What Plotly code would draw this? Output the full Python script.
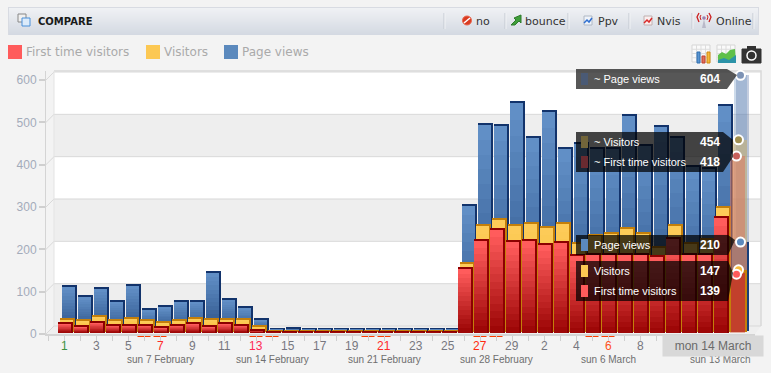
import plotly.graph_objects as go

W, H = 771, 373
days = [str(d) for d in range(1, 30)] + [str(d) for d in range(1, 15)]
first_time = [21,14,24,17,17,17,12,17,21,14,21,17,5, 1,1,1,1,1,1,1,1,1,1,1,1,
              151,217,243,215,217,208,213,182,184,184,184,184,180,222,184,184,272,139]
visitors = [28,26,35,26,31,26,21,26,31,28,28,28,12, 1,1,1,1,1,1,1,1,1,1,1,1,
            161,250,265,250,255,246,255,208,227,232,243,232,198,250,208,217,293,147]
page_views = [104,80,99,68,106,49,56,68,68,137,73,54,26, 3,4,3,3,3,3,3,3,3,3,3,3,
              295,486,484,538,456,517,430,442,430,430,508,437,482,456,387,382,531,210]
proj_first, proj_visitors, proj_page = 418, 454, 604
y_ticks = [0, 100, 200, 300, 400, 500, 600]
week_labels = [(6, "sun 7 February"), (13, "sun 14 February"), (20, "sun 21 February"),
               (27, "sun 28 February"), (34, "sun 6 March"), (41, "sun 13 March")]
weekend = [5, 6, 12, 13, 19, 20, 26, 27, 33, 34, 40, 41]
label_colors = {0: "#3d9140", 6: "#ff2a2a", 12: "#ff2a55", 20: "#ff2a2a", 26: "#ff2a10", 34: "#ff5020"}
last_labelled_day = 36   # the date tag hides the later labels

K = 254 / 600          # px per value
UX = 1 / 16            # x units per px
UY = 1 / K             # value units per px
X0PX = 64              # pixel of day index 0
def X(p): return p / W
def Y(p): return 1 - p / H
def mix(a, b, t):
    return "#%02x%02x%02x" % tuple(round(a[i] + (b[i] - a[i]) * t) for i in range(3))

shapes, ann = [], []
def rect(x0, y0, x1, y1, fill, line=None, layer="below", lw=1):
    shapes.append(dict(type="rect", xref="paper", yref="paper", x0=X(x0), x1=X(x1), y0=Y(y0), y1=Y(y1),
                       fillcolor=fill, line=dict(color=line or "rgba(0,0,0,0)", width=lw if line else 0), layer=layer))
def poly(pts, fill=None, line=None, layer="below", lw=1):
    path = "M" + " L".join(f"{X(a):.5f},{Y(b):.5f}" for a, b in pts) + (" Z" if fill else "")
    shapes.append(dict(type="path", xref="paper", yref="paper", path=path, fillcolor=fill or "rgba(0,0,0,0)",
                       line=dict(color=line or "rgba(0,0,0,0)", width=lw if line else 0), layer=layer))
def circle(cx, cy, r, fill, line=None, lw=1, layer="above"):
    shapes.append(dict(type="circle", xref="paper", yref="paper", x0=X(cx-r), x1=X(cx+r), y0=Y(cy-r), y1=Y(cy+r),
                       fillcolor=fill, line=dict(color=line or "rgba(0,0,0,0)", width=lw if line else 0), layer=layer))
def txt(x, y, s, size=11, color="#333", anchor="left", family="Liberation Sans", **kw):
    ann.append(dict(xref="paper", yref="paper", x=X(x), y=Y(y), text=s, showarrow=False, xanchor=anchor, yanchor="middle",
                    font=dict(size=size, color=color, family=family), borderpad=0, **kw))

# ---- header
rect(8, 7, 759, 35, "#d8dbe2")
for k in range(27):
    rect(9, 8 + k, 758, 9 + k, mix((239, 241, 244), (212, 217, 226), k / 26))
txt(37, 21, "<b>COMPARE</b>", 10, "#1a1a1a", family="DejaVu Sans")
rect(18, 14, 26, 22, "#f0f0f0", "#888888", "above")
rect(22, 18, 30, 26, "#dcebfa", "#4a90d9", "above")
for sx in (444, 505, 568, 629, 692, 753):
    poly([(sx, 13), (sx, 29)], None, "#c3c8d0")
    poly([(sx + 1, 13), (sx + 1, 29)], None, "#f0f2f5")
for x, s in ((475, "no"), (524, "bounce"), (597, "Ppv"), (656, "Nvis"), (715, "Online")):
    txt(x, 21, s, 11, "#333333", family="DejaVu Sans")
# header icons
circle(467, 20.5, 4.5, "#d93a20", "#e8664d")
poly([(464, 23), (470, 18)], None, "#ffffff", "above", 1.6)
poly([(511, 25), (516, 20), (514, 18), (521, 15), (521, 23), (519, 21), (515, 25)], "#3f9e3a", "#2d7a2a", "above")
for cx, col in ((588, "#2f6fd0"), (648, "#d92a2a")):
    rect(584, 16, 592, 25, "#eef3fa", "#b0b8c4", "above") if cx == 588 else rect(644, 16, 652, 25, "#fbeeee", "#c0b0b0", "above")
    poly([(cx-4, 23), (cx-1, 20), (cx+1, 22), (cx+4, 18)], None, col, "above", 1.5)
poly([(704, 19), (702, 28), (706, 28)], "#b9b9c9", None, "above")
circle(704, 18, 1.8, "#9a7fb0")
for a, b, c in ((699, 697, 699), (709, 711, 709)):
    poly([(a, 13), (b, 17), (c, 22)], None, "#cc1f1f", "above", 1.3)
for a, b, c in ((701, 700, 701), (707, 708, 707)):
    poly([(a, 15), (b, 17), (c, 20)], None, "#cc1f1f", "above", 1)

# ---- legend
for x, col, s, tx in ((8, "#ff5b5b", "First time visitors", 25), (146, "#fcc853", "Visitors", 163), (224, "#5b89bd", "Page views", 241)):
    rect(x, 45, x + 14, 59, col)
    txt(tx, 52, s, 12, "#aaaaaa", family="DejaVu Sans")

# ---- toolbar icons
for ox in (692, 717):
    rect(ox, 45, ox + 18, 62, "#fafafa", "#d5d5d5")
    for g in range(1, 4):
        poly([(ox + g * 4.5, 45), (ox + g * 4.5, 62)], None, "#dddddd")
        poly([(ox, 45 + g * 4.25), (ox + 18, 45 + g * 4.25)], None, "#dddddd")
rect(697, 52, 700, 63, "#5b95d0", "#2f6fb0")
rect(702, 56, 705, 63, "#e0705a", "#c04030")
rect(707, 52, 710, 63, "#f6b93b", "#d08a10")
poly([(718, 55), (722, 52), (726, 54), (730, 50), (735, 49), (736, 63), (718, 63)], "#5fc04a")
poly([(718, 60), (724, 58), (729, 60), (736, 55), (736, 63), (718, 63)], "#2c93a8")
rect(742, 49, 761, 63, "#333333", "#333333")
rect(747, 46, 756, 49, "#333333")
circle(751.5, 55.5, 4.5, "#333333", "#ffffff", 1.5, "below")

# ---- chart box
poly([(46, 334), (54, 326), (761, 326), (755, 334)], "#efefef")
rect(54, 71, 761, 326, "#ffffff")
for v in (400, 200, 0):
    y = 326 - (v + 100) * K
    rect(54, y, 761, y + 100 * K, "#eeeeee")
for v in y_ticks:
    y = 326 - v * K - 0
    poly([(46, y + 8), (54, y), (761, y)], None, "#d9d9d9", lw=1)
poly([(54, 71), (761, 71), (761, 326)], None, "#d9d9d9", lw=1.5)
poly([(54, 71), (54, 326)], None, "#e3e3e3")
for i in weekend:
    px = X0PX + i * 16
    rect(px - 6.5, 335, px + 6.5, 337, "#ff3c00")

# ---- bars
fig = go.Figure()
n = len(days)
idx = list(range(n - 1))
def bar(xs, tops, bases, off, color, width=13):
    fig.add_trace(go.Bar(x=xs, y=tops, base=bases, offset=off, width=width * UX,
                         marker=dict(color=color, line=dict(width=0)), hoverinfo="skip", showlegend=False))
def series(vals, dx, dy, top_c, bot_c, side):
    xs = idx
    v = vals[:-1]
    base = [dy * UY] * len(xs)
    off = (dx - 6.5) * UX
    raised = [a + 2 * UY for a in v]
    bar(xs, raised, base, off + 1.7 * UX, side)   # depth: right side and cap
    bar(xs, raised, base, off, side)              # depth: cap above the front
    steps = 14
    for k in range(steps):
        frac = 1 - k / steps
        bar(xs, [a * frac for a in v], base, off, mix(bot_c, top_c, frac))

series(page_views, 4.5, 3, (97, 143, 198), (42, 80, 134), "#12336b")
series(visitors, 2.5, 2, (253, 203, 88), (246, 184, 48), "#c47f0a")
series(first_time, 0.5, 1, (255, 92, 92), (150, 0, 0), "#8c0000")

# ---- last day: projection columns and translucent actual values
L = n - 1
def one(v, dx, dy, color, width=13):
    bar([L], [v], [dy * UY], (dx - 6.5) * UX, color, width)
one(proj_page, 6, 3, "rgba(60,90,150,0.30)", 13)
one(proj_page, 4.5, 3, "rgba(91,137,189,0.30)", 13)
one(proj_visitors, 2.5, 2, "rgba(210,180,110,0.55)", 15)
one(proj_first, 0.5, 1, "rgba(220,120,95,0.55)", 15)
one(page_views[L], 6, 3, "#1a3f7a", 13)
one(page_views[L], 2.5, 3, "#a87a72", 15)
one(visitors[L], -0.5, 2, "#c47f0a", 18)
one(first_time[L], 1.5, 2, "#c2402c", 14)

# end markers
for v, dx, dy, col in ((proj_page, 4.5, 3, "#7d93b5"), (proj_visitors, 2.5, 2, "#a08f50"), (proj_first, 0.5, 1, "#c8605a"),
                       (page_views[L], 4.5, 3, "#5b89bd"), (visitors[L], 2.5, 2, "#f6b93b"), (first_time[L], 0.5, 1, "#ff5b5b")):
    fig.add_trace(go.Scatter(x=[L + dx * UX], y=[v + dy * UY], mode="markers", cliponaxis=False, hoverinfo="skip", showlegend=False,
                             marker=dict(size=9, color=col, line=dict(color="#ffffff", width=2))))

# ---- tooltips
poly([(576, 69), (727, 69), (737, 75), (727, 89), (576, 89)], "rgba(45,45,45,0.8)", None, "above")
poly([(576, 132), (723, 132), (733, 140), (733, 157), (723, 172), (576, 172)], "rgba(0,0,0,0.72)", None, "above")
poly([(576, 235), (728, 235), (735, 240), (728, 255), (576, 255)], "rgba(0,0,0,0.72)", None, "above")
poly([(576, 261), (728, 261), (733, 273), (728, 301), (576, 301)], "rgba(0,0,0,0.72)", None, "above")
rows = [(79, "#4a5a75", "~ Page views", proj_page), (142, "#72653a", "~ Visitors", proj_visitors),
        (162, "#6a2a30", "~ First time visitors", proj_first), (245, "#5b89bd", "Page views", page_views[L]),
        (271, "#fcc853", "Visitors", visitors[L]), (291, "#ff5b5b", "First time visitors", first_time[L])]
for y, col, s, v in rows:
    rect(581, y - 6, 588, y + 6, col, None, "above")
    txt(593, y, s, 11, "#ffffff")
    txt(721, y, f"<b>{v}</b>", 12, "#ffffff", anchor="right")

# ---- x labels
for i, d in enumerate(days):
    if i % 2 == 0 and i <= last_labelled_day:
        ann.append(dict(xref="x", yref="paper", x=i, y=Y(346), text=d, showarrow=False, xanchor="center", yanchor="middle",
                        font=dict(size=12, color=label_colors.get(i, "#77777f"), family="Liberation Sans")))
for i, s in week_labels:
    ann.append(dict(xref="x", yref="paper", x=i, y=Y(359), text=s, showarrow=False, xanchor="center", yanchor="middle",
                    font=dict(size=10, color="#6f6f6f", family="Liberation Sans")))
txt(713, 346, "mon 14 March", 12, "#6a6a6a", anchor="center", bgcolor="#d8d8d8", width=100, height=20)

fig.update_layout(
    width=W, height=H, margin=dict(l=0, r=0, t=0, b=0), autosize=False,
    paper_bgcolor="#f3f3f3", plot_bgcolor="rgba(0,0,0,0)", barmode="overlay", bargap=0,
    shapes=shapes, annotations=ann, showlegend=False,
    xaxis=dict(domain=[X(46), X(755)], range=[(46 - X0PX) * UX, (755 - X0PX) * UX], tickmode="array", automargin=False,
               tickvals=[-1] + list(range(n)), ticktext=[""] * (n + 1), ticks="outside", ticklen=5, tickcolor="#cfcfcf",
               showgrid=False, zeroline=False, showline=True, linecolor="#d4d4d4", linewidth=2),
    yaxis=dict(domain=[Y(334), Y(71)], range=[0, 263 * UY], tickmode="array", tickvals=y_ticks, ticks="outside", ticklen=6, automargin=False,
               tickwidth=2, tickcolor="#cfcfcf", showgrid=False, zeroline=False, showline=True, linecolor="#d4d4d4", linewidth=1,
               tickfont=dict(size=12, color="#a3abba", family="Liberation Sans")),
)
fig.write_html("out.html", config={"displayModeBar": False},
               post_script="document.body.style.margin='0';document.body.style.overflow='hidden';document.body.style.background='#f3f3f3';")
